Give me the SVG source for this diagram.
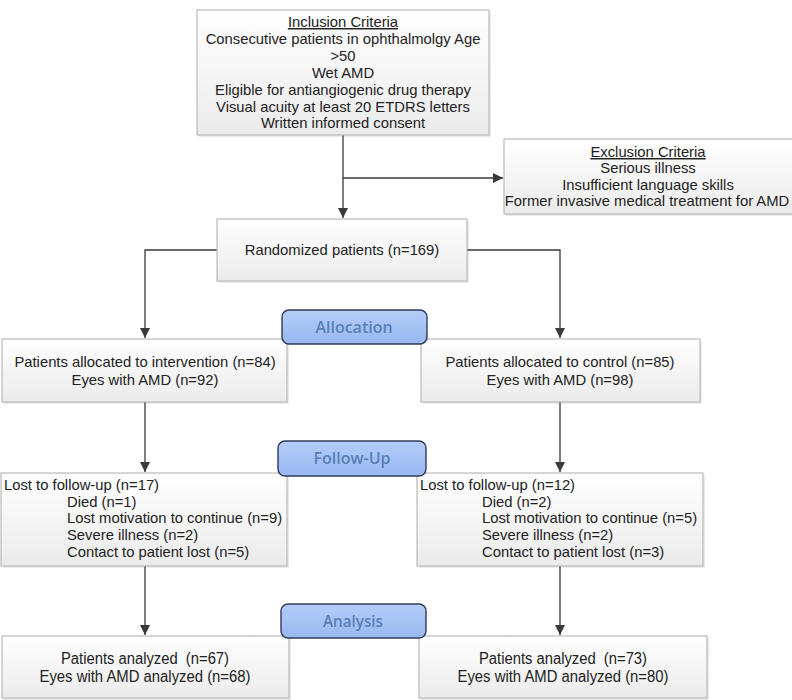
<svg xmlns="http://www.w3.org/2000/svg" width="792" height="700" viewBox="0 0 792 700">
<defs>
<linearGradient id="bg" x1="0" y1="0" x2="0" y2="1">
<stop offset="0" stop-color="#ffffff"/>
<stop offset="1" stop-color="#ebebeb"/>
</linearGradient>
<linearGradient id="pill" x1="0" y1="0" x2="0" y2="1">
<stop offset="0" stop-color="#b4cdf8"/>
<stop offset="1" stop-color="#98b8f2"/>
</linearGradient>
<marker id="arr" viewBox="0 0 10 10" refX="10" refY="5" markerWidth="10" markerHeight="10" markerUnits="userSpaceOnUse" orient="auto">
<path d="M0,0 L10,5 L0,10 z" fill="#3a3a3a"/>
</marker>
</defs>
<style>
.box{fill:url(#bg);stroke:#b9b9b9;stroke-width:1.2}
.sh{fill:#000;opacity:0.08}
.t{font-family:"Liberation Sans",Arial,sans-serif;font-size:14.8px;fill:#222}
.c{text-anchor:middle}
.n{font-family:"Liberation Sans",Arial,sans-serif;font-size:16px;fill:#222;text-anchor:middle}
.u{text-decoration:underline}
.pill{fill:url(#pill);stroke:#2f3b55;stroke-width:1.4}
.pt{font-family:"Open Sans","Liberation Sans",sans-serif;font-size:16px;font-weight:600;fill:#5a7fb6;text-anchor:middle}
.ln{fill:none;stroke:#3a3a3a;stroke-width:1.3}
</style>
<rect width="792" height="700" fill="#fff"/>

<g id="connectors">
<path class="ln" d="M343,135 V218" marker-end="url(#arr)"/>
<path class="ln" d="M343,178 H503" marker-end="url(#arr)"/>
<path class="ln" d="M217,250 H145 V338" marker-end="url(#arr)"/>
<path class="ln" d="M467,250 H560 V338" marker-end="url(#arr)"/>
<path class="ln" d="M145,402 V472" marker-end="url(#arr)"/>
<path class="ln" d="M560,402 V472" marker-end="url(#arr)"/>
<path class="ln" d="M145,566 V635" marker-end="url(#arr)"/>
<path class="ln" d="M560,566 V635" marker-end="url(#arr)"/>
</g>

<g id="inclusion">
<rect class="sh" x="199" y="12" width="292" height="125"/>
<rect class="box" x="197" y="10" width="292" height="125"/>
<text class="t c u" x="343" y="27">Inclusion Criteria</text>
<text class="t c" x="343" y="44">Consecutive patients in ophthalmolgy Age</text>
<text class="t c" x="343" y="61">&gt;50</text>
<text class="t c" x="343" y="78">Wet AMD</text>
<text class="t c" x="343" y="95">Eligible for antiangiogenic drug therapy</text>
<text class="t c" x="343" y="112">Visual acuity at least 20 ETDRS letters</text>
<text class="t c" x="343" y="128">Written informed consent</text>
</g>

<g id="exclusion">
<rect class="sh" x="506" y="141" width="288" height="75"/>
<rect class="box" x="504" y="139" width="290" height="75"/>
<text class="t c u" x="648" y="157">Exclusion Criteria</text>
<text class="t c" x="648" y="173">Serious illness</text>
<text class="t c" x="648" y="190">Insufficient language skills</text>
<text class="t c" x="647" y="206">Former invasive medical treatment for AMD</text>
</g>

<g id="randomized">
<rect class="sh" x="219" y="221" width="250" height="62"/>
<rect class="box" x="217" y="219" width="250" height="62"/>
<text class="t c" x="342" y="255">Randomized patients (n=169)</text>
</g>

<g id="alloc-left">
<rect class="sh" x="4" y="341" width="285" height="63"/>
<rect class="box" x="2" y="339" width="285" height="63"/>
<text class="t c" x="145" y="367">Patients allocated to intervention (n=84)</text>
<text class="t c" x="145" y="385">Eyes with AMD (n=92)</text>
</g>

<g id="alloc-right">
<rect class="sh" x="423" y="341" width="279" height="63"/>
<rect class="box" x="421" y="339" width="279" height="63"/>
<text class="t c" x="560" y="367">Patients allocated to control (n=85)</text>
<text class="t c" x="560" y="385">Eyes with AMD (n=98)</text>
</g>

<g id="allocation">
<rect class="pill" x="282" y="310" width="145" height="34" rx="7"/>
<text class="pt" x="354" y="333">Allocation</text>
</g>

<g id="follow-left">
<rect class="sh" x="3" y="475" width="286" height="93"/>
<rect class="box" x="1" y="473" width="286" height="93"/>
<text class="t" x="4" y="490">Lost to follow-up (n=17)</text>
<text class="t" x="67" y="507">Died (n=1)</text>
<text class="t" x="67" y="523">Lost motivation to continue (n=9)</text>
<text class="t" x="67" y="540">Severe illness (n=2)</text>
<text class="t" x="67" y="557">Contact to patient lost (n=5)</text>
</g>

<g id="follow-right">
<rect class="sh" x="419" y="475" width="286" height="93"/>
<rect class="box" x="417" y="473" width="286" height="93"/>
<text class="t" x="420" y="490">Lost to follow-up (n=12)</text>
<text class="t" x="482" y="507">Died (n=2)</text>
<text class="t" x="482" y="523">Lost motivation to continue (n=5)</text>
<text class="t" x="482" y="540">Severe illness (n=2)</text>
<text class="t" x="482" y="557">Contact to patient lost (n=3)</text>
</g>

<g id="followup">
<rect class="pill" x="278" y="441" width="148" height="35" rx="7"/>
<text class="pt" x="352" y="464">Follow-Up</text>
</g>

<g id="analyzed-left">
<rect class="sh" x="4" y="638" width="287" height="62"/>
<rect class="box" x="2" y="636" width="287" height="62"/>
<text class="n" x="145" y="664" textLength="168" lengthAdjust="spacingAndGlyphs">Patients analyzed&#160; (n=67)</text>
<text class="n" x="145" y="682" textLength="211" lengthAdjust="spacingAndGlyphs">Eyes with AMD analyzed (n=68)</text>
</g>

<g id="analyzed-right">
<rect class="sh" x="421" y="638" width="288" height="62"/>
<rect class="box" x="419" y="636" width="288" height="62"/>
<text class="n" x="563" y="664" textLength="168" lengthAdjust="spacingAndGlyphs">Patients analyzed&#160; (n=73)</text>
<text class="n" x="563" y="682" textLength="211" lengthAdjust="spacingAndGlyphs">Eyes with AMD analyzed (n=80)</text>
</g>

<g id="analysis">
<rect class="pill" x="281" y="604" width="145" height="34" rx="7"/>
<text class="pt" x="353" y="627" textLength="60" lengthAdjust="spacingAndGlyphs">Analysis</text>
</g>
</svg>
